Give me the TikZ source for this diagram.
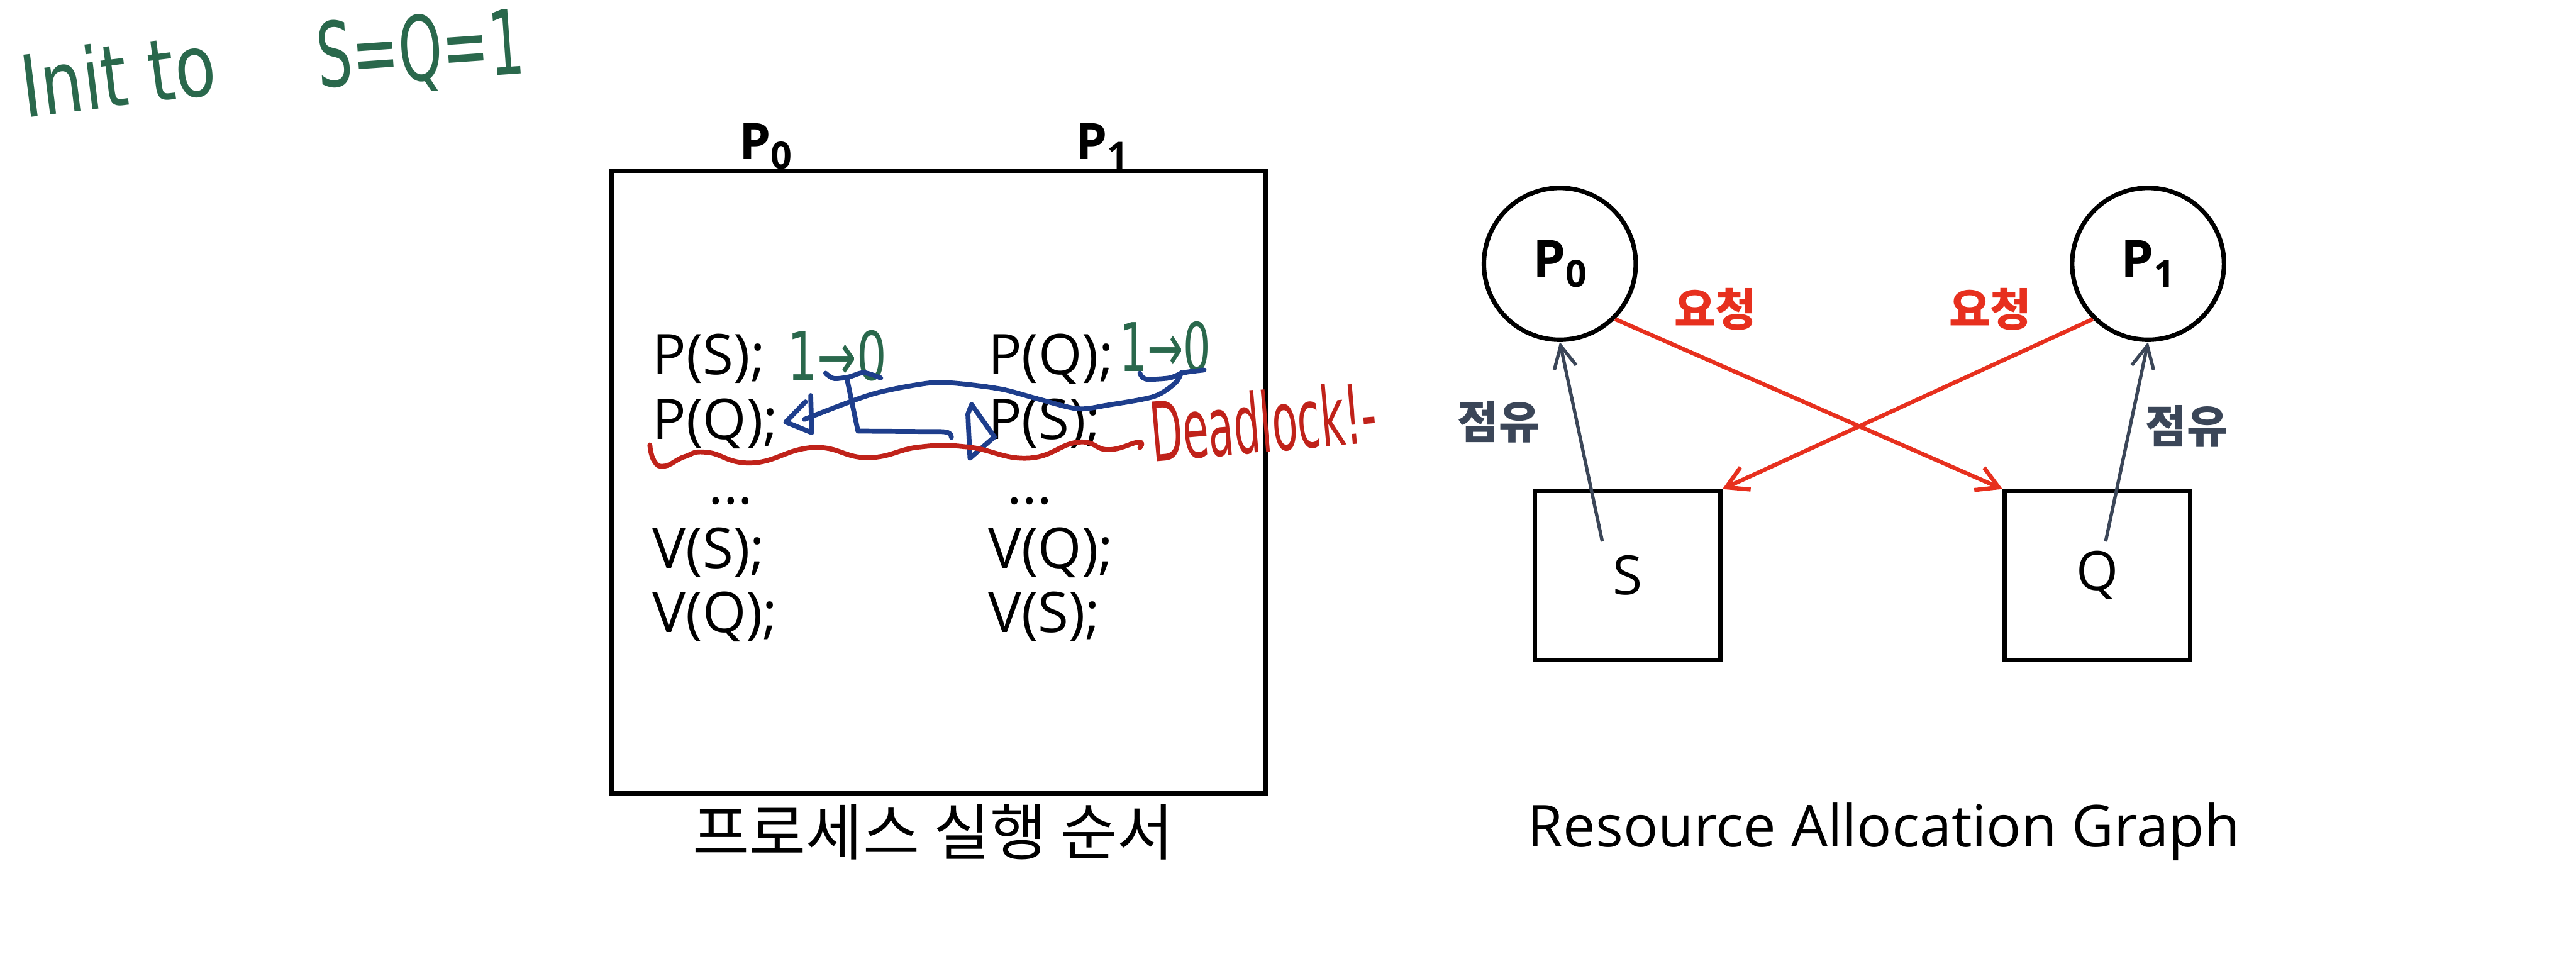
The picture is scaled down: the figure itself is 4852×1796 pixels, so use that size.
\documentclass[tikz,border=0pt]{standalone}
\usepackage{fontspec}
\setmainfont{Open Sans}
\newfontfamily\krfont{Noto Sans CJK KR}
\newfontfamily\handfont{DejaVu Sans}
\usetikzlibrary{arrows.meta,positioning}
\definecolor{reqred}{RGB}{231,48,30}
\definecolor{holdgray}{RGB}{59,70,88}
\definecolor{inkgreen}{RGB}{42,104,76}
\definecolor{inkblue}{RGB}{30,62,140}
\definecolor{inkred}{RGB}{192,34,26}
\newcommand{\pidx}[1]{\raisebox{-2.6pt}{\fontsize{10}{10}\selectfont #1}}
\newcommand{\scribble}[3]{\scalebox{#1}[1]{\handfont\fontsize{#2}{#2}\selectfont #3}}

\begin{document}
\begin{tikzpicture}[x=0.05mm, y=-0.05mm,
  proc/.style={circle, draw, line width=1.2pt, minimum size=14.3mm, inner sep=0pt,
    font=\fontsize{14}{14}\selectfont\bfseries},
  res/.style={rectangle, draw, line width=1.1pt, minimum width=17.45mm,
    minimum height=15.9mm, inner sep=0pt, font=\fontsize{14.5}{14.5}\selectfont},
  req/.style={reqred, line width=1.1pt, -{Straight Barb[length=2mm, width=2.3mm]}},
  hold/.style={holdgray, line width=0.9pt, -{Straight Barb[length=2.1mm, width=2.1mm]}},
  reqlabel/.style={reqred, font=\krfont\bfseries\fontsize{12}{12}\selectfont},
  holdlabel/.style={holdgray, font=\krfont\bfseries\fontsize{12}{12}\selectfont},
  code/.style={anchor=base west, inner sep=0pt, font=\fontsize{15}{15}\selectfont},
  head/.style={anchor=base west, inner sep=0pt, font=\fontsize{13.5}{13.5}\selectfont\bfseries},
  ink/.style={line width=1.3pt, line cap=round, line join=round}]
  \useasboundingbox (0,0) rectangle (4852,1796);

  % Note manuscrite en haut
  \node[inkgreen, anchor=base west, inner sep=0pt, rotate=7] (init) at (45,222)
    {\scribble{0.78}{23}{Init to}};
  \node[inkgreen, anchor=base west, inner sep=0pt, rotate=4] (semval) at (600,165)
    {\scribble{0.62}{24}{S=Q=1}};

  % Ordre d'execution
  \node[draw, line width=1.2pt, minimum width=61.6mm, minimum height=58.65mm,
    inner sep=0pt] (frame) at (1768,908) {};
  \node[head] (h0) at (1391,300) {P\pidx{0}};
  \node[head] (h1) at (2025,300) {P\pidx{1}};
  \foreach \y/\lft/\rgt in {705/P(S);/P(Q);, 827/P(Q);/P(S);, 1070/V(S);/V(Q);, 1191/V(Q);/V(S);} {
    \node[code] (l\y) at (1228,\y) {\lft};
    \node[code] (r\y) at (1860,\y) {\rgt};
  }
  \node[code] (ldots) at (1333,950) {...};
  \node[code] (rdots) at (1896,950) {...};
  \node[font=\krfont\fontsize{16.5}{16.5}\selectfont] (caption) at (1758,1567) {프로세스 실행 순서};

  % Annotations a la main
  \node[inkgreen, anchor=base west, inner sep=0pt] (dec0) at (1482,716)
    {\scribble{0.7}{18}{1→0}};
  \node[inkgreen, anchor=base west, inner sep=0pt] (dec1) at (2108,700)
    {\scribble{0.64}{18}{1→0}};
  \draw[inkblue, ink] plot[smooth] coordinates {(1555,703) (1571,713) (1599,710) (1627,702) (1659,712)};
  \draw[inkblue, ink] (1595,712) -- (1616,812) -- (1762,813) to[out=0, in=90] (1792,824);
  \draw[inkblue, ink] (1823,780) -- (1830,762) -- (1873,823) -- (1827,863) -- cycle;
  \draw[inkblue, ink] plot[smooth] coordinates {(2147,703) (2158,714) (2202,712) (2230,702) (2268,697)};
  \draw[inkblue, ink] plot[smooth] coordinates {(2225,702) (2213,722) (2173,747) (2087,763)
    (2030,770) (1957,752) (1886,733) (1800,722) (1746,722) (1641,743) (1515,790)};
  \draw[inkblue, ink] (1527,745) -- (1529,815) -- (1480,795) -- (1517,757);
  \draw[inkred, ink] plot[smooth, tension=0.8] coordinates {(1224,838) (1232,868) (1252,878)
    (1290,860) (1332,852) (1417,872) (1532,843) (1634,862) (1732,842) (1823,842)
    (1936,863) (2030,833) (2087,847) (2144,833) (2147,843)};
  \node[inkred, anchor=base west, inner sep=0pt, rotate=5] (dlock) at (2170,870)
    {\scribble{0.51}{22}{Deadlock!-}};

  % Graphe d'allocation
  \node[proc] (p0) at (2938,497) {P\pidx{0}};
  \node[proc] (p1) at (4046,497) {P\pidx{1}};
  \node[res] (s) at (3066,1084) {S};
  \node[res] (q) at (3950,1084) {Q};
  \coordinate (sheld) at (3018,1020);
  \coordinate (qheld) at (3966,1020);
  \draw[hold] (sheld) -- (p0.south);
  \draw[hold] (qheld) -- (p1.south);
  \draw[req] (p0.-45) -- (q.north west);
  \draw[req] (p1.-135) -- (s.north east);
  \node[reqlabel] (req0) at (3231,582) {요청};
  \node[reqlabel] (req1) at (3749,582) {요청};
  \node[holdlabel] (hold0) at (2823,795) {점유};
  \node[holdlabel] (hold1) at (4119,803) {점유};
  \node[anchor=base, font=\fontsize{15.5}{15.5}\selectfont] (ragtitle) at (3548,1595)
    {Resource Allocation Graph};
\end{tikzpicture}
\end{document}
